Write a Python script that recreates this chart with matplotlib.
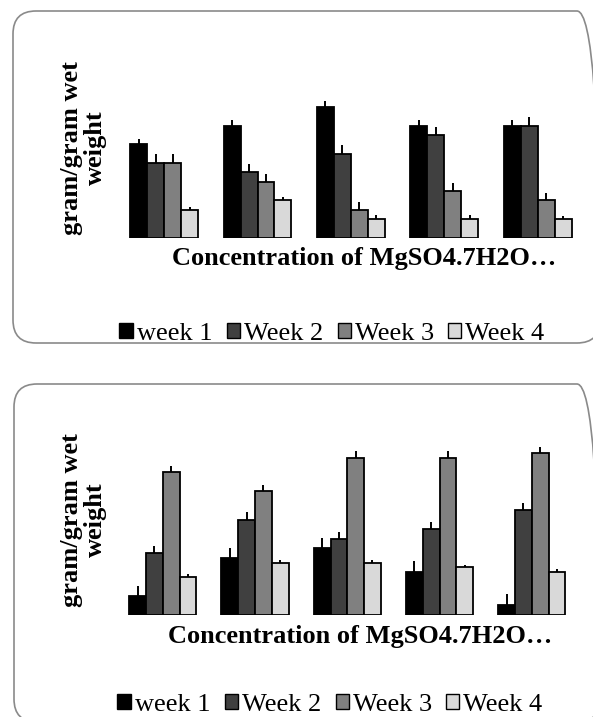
import matplotlib
matplotlib.use("Agg")
import matplotlib.pyplot as plt
import numpy as np
from matplotlib.patches import FancyBboxPatch, Patch

plt.rcParams['font.family'] = ['Liberation Serif', 'DejaVu Serif']

# ---------------- data ----------------
groups = ["c1", "c2", "c3", "c4", "c5"]
series = ["week 1", "Week 2", "Week 3", "Week 4"]
colors = ["#000000", "#404040", "#808080", "#d9d9d9"]

top_w1 = [10.0, 12.0, 14.0, 12.0, 12.0]
top_w2 = [8.0, 7.0, 9.0, 11.0, 12.0]
top_w3 = [8.0, 6.0, 3.0, 5.0, 4.0]
top_w4 = [3.0, 4.0, 2.0, 2.0, 2.0]
top_e1 = [0.55, 0.6, 0.6, 0.6, 0.6]
top_e2 = [0.95, 0.9, 0.9, 0.9, 0.95]
top_e3 = [0.95, 0.82, 0.82, 0.82, 0.8]
top_e4 = [0.3, 0.36, 0.4, 0.4, 0.35]

bot_w1 = [4.0, 12.0, 14.0, 9.1, 2.2]
bot_w2 = [12.9, 20.0, 16.0, 18.0, 22.0]
bot_w3 = [30.0, 25.9, 32.9, 32.9, 33.9]
bot_w4 = [8.0, 10.9, 10.9, 10.0, 9.1]
bot_e1 = [2.1, 2.15, 2.15, 2.15, 2.1]
bot_e2 = [1.5, 1.5, 1.5, 1.5, 1.4]
bot_e3 = [1.3, 1.45, 1.5, 1.5, 1.4]
bot_e4 = [0.5, 0.55, 0.55, 0.5, 0.5]

ylabel = "gram/gram wet\nweight"
xlabel = "Concentration of MgSO4.7H2O…"

W, H = 593, 717
fig = plt.figure(figsize=(W / 100, H / 100), dpi=100)


def ax_rect(left, right, base, top):
    return [left / W, 1 - base / H, (right - left) / W, (base - top) / H]


def frame(x0, y0, x1, y1):
    p = FancyBboxPatch((x0 / 100, (H - y1) / 100), (x1 - x0) / 100, (y1 - y0) / 100,
                       boxstyle="round,pad=0,rounding_size=0.23",
                       transform=fig.dpi_scale_trans, facecolor="none",
                       edgecolor="#8a8a8a", linewidth=1.2, zorder=0)
    fig.add_artist(p)


def panel(rect, vals, errs, unit_px):
    ax = fig.add_axes(rect)
    x = np.arange(len(groups))
    bw = 0.182
    for j, (v, e) in enumerate(zip(vals, errs)):
        pos = x + (j - 1.5) * bw
        ax.bar(pos, v, width=bw, color=colors[j], edgecolor="black", linewidth=1.3, zorder=2)
        ax.errorbar(pos, v, yerr=[np.zeros(len(v)), e], fmt="none", ecolor="black",
                    elinewidth=1.4, capsize=0, zorder=3)
    ax.set_xlim(-0.5, len(groups) - 0.5)
    ax.set_ylim(0, rect[3] * H / unit_px)
    ax.axis("off")
    return ax


frame(13, 11, 600, 343)
frame(14, 384, 600, 722)

panel(ax_rect(117.5, 584.2, 237.7, 90), [top_w1, top_w2, top_w3, top_w4],
      [top_e1, top_e2, top_e3, top_e4], 9.33)
panel(ax_rect(116.7, 577.9, 615, 430), [bot_w1, bot_w2, bot_w3, bot_w4],
      [bot_e1, bot_e2, bot_e3, bot_e4], 4.77)

fs = 19
for (yx, yy, xx, xy, lx, ly) in [(83, 148, 364, 259, 332, 334),
                                 (83, 520, 360, 636, 330, 705)]:
    fig.text(yx / W, 1 - yy / H, ylabel, rotation=90, ha="center", va="center",
             multialignment="center", fontsize=fs, fontweight="bold", linespacing=1.05)
    fig.text(xx / W, 1 - xy / H, xlabel, ha="center", va="center",
             fontsize=fs, fontweight="bold")
    handles = [Patch(facecolor=c, edgecolor="black", linewidth=1.0) for c in colors]
    fig.legend(handles, series, loc="center", bbox_to_anchor=(lx / W, 1 - ly / H),
               ncol=4, frameon=False, fontsize=fs, handlelength=0.5, handleheight=0.5,
               handletextpad=0.15, columnspacing=0.55, borderpad=0, borderaxespad=0)

fig.savefig("out.png", dpi=100)
